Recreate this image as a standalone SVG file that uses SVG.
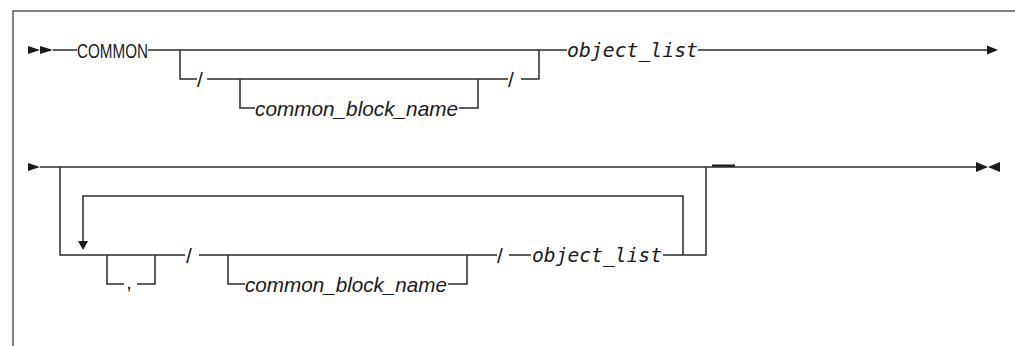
<svg xmlns="http://www.w3.org/2000/svg" width="1015" height="346" viewBox="0 0 1015 346">
<style>
.ln{fill:none;stroke:#2a2a2a;stroke-width:1.5}
.fr{fill:none;stroke:#555;stroke-width:1.5}
.ah{fill:#1a1a1a;stroke:none}
.kw{font-family:"Liberation Sans",Arial,sans-serif;font-size:20px;fill:#1a1a1a}
.sl{font-family:"Liberation Sans",Arial,sans-serif;font-size:21px;fill:#1a1a1a}
.var{font-family:"DejaVu Sans Mono","Liberation Mono",monospace;font-style:italic;font-size:19px;fill:#1a1a1a}
.vs{font-family:"Liberation Sans",Arial,sans-serif;font-style:italic;font-size:21px;fill:#1a1a1a}
</style>
<rect width="1015" height="346" fill="#fff"/>
<path class="fr" d="M13,346 V11 H1015"/>
<g id="connectors">
  <path class="ln" d="M53,50 H77 M148,50 H567 M698,50 H988"/>
  <path class="ln" d="M180,50 V79 H197 M207,79 H508 M521,79 H539 V50"/>
  <path class="ln" d="M240,79 V108 H255 M459,108 H478 V79"/>
  <path class="ln" d="M40,167 H977"/>
  <path d="M712,165.6 H735" fill="none" stroke="#1a1a1a" stroke-width="2.2"/>
  <path class="ln" d="M60,167 V255 H185 M199,255 H497 M509,255 H531 M663,255 H706 V167"/>
  <path class="ln" d="M683,255 V196 H83 V242"/>
  <path class="ln" d="M107,255 V284 H124 M137,284 H155 V255"/>
  <path class="ln" d="M228,255 V284 H245 M448,284 H467 V255"/>
  <polygon class="ah" points="28,46 40,50 28,54"/>
  <polygon class="ah" points="40,46 53,50 40,54"/>
  <polygon class="ah" points="987,45.5 998,50 987,54.5"/>
  <polygon class="ah" points="28,163 40,167 28,171"/>
  <polygon class="ah" points="976,162 988,167 976,172"/>
  <polygon class="ah" points="1000,162 988,167 1000,172"/>
  <polygon class="ah" points="78,241 88,241 83,250"/>
</g>
<g id="start1"><text class="kw" x="77" y="57.5" textLength="71" lengthAdjust="spacingAndGlyphs">COMMON</text></g>
<g id="slash1"><text class="sl" x="197" y="87">/</text></g>
<g id="cbn1"><text class="vs" x="255" y="115.5" textLength="203" lengthAdjust="spacingAndGlyphs">common_block_name</text></g>
<g id="slash2"><text class="sl" x="508" y="87">/</text></g>
<g id="ol1"><text class="var" x="567" y="57" textLength="131" lengthAdjust="spacingAndGlyphs">object_list</text></g>
<g id="comma"><text class="sl" x="126" y="289">,</text></g>
<g id="slash3"><text class="sl" x="186" y="263">/</text></g>
<g id="cbn2"><text class="vs" x="245" y="291.5" textLength="202" lengthAdjust="spacingAndGlyphs">common_block_name</text></g>
<g id="slash4"><text class="sl" x="497" y="263">/</text></g>
<g id="ol2"><text class="var" x="532" y="262" textLength="130" lengthAdjust="spacingAndGlyphs">object_list</text></g>
</svg>
